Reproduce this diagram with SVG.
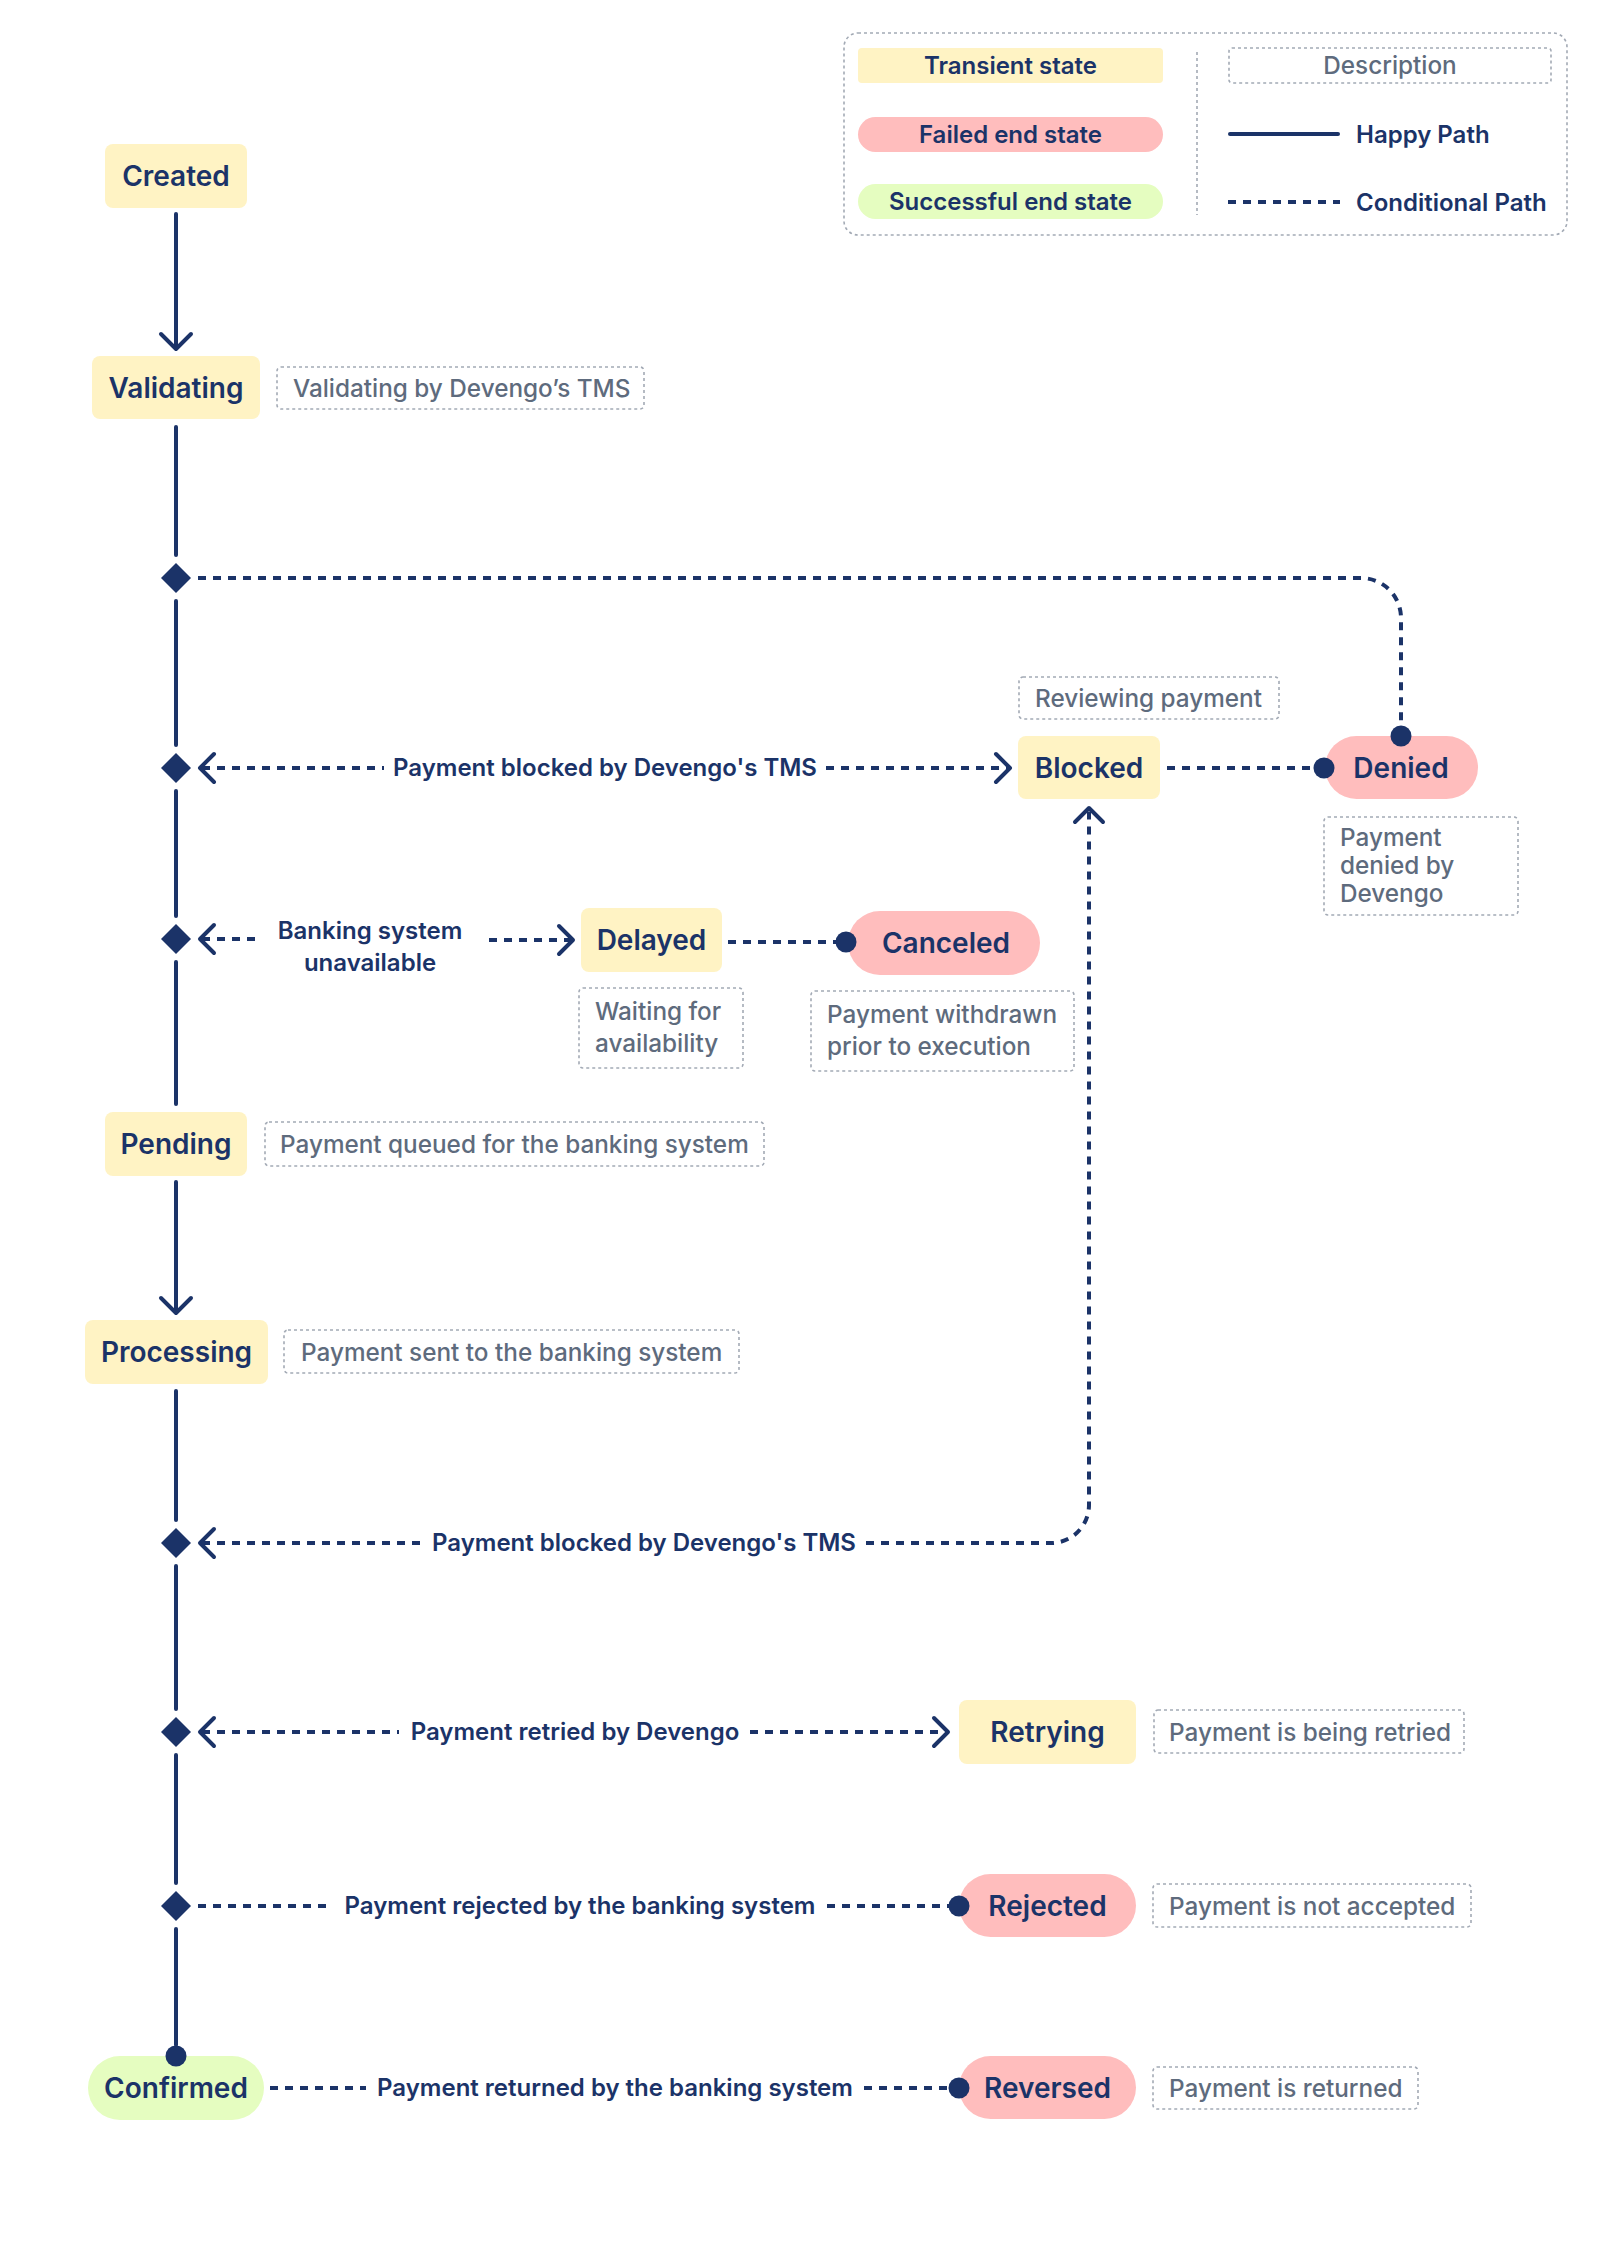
<svg xmlns="http://www.w3.org/2000/svg" width="1600" height="2266" viewBox="0 0 1600 2266">
<style>
.bg{fill:#ffffff}
.tr{fill:#FFF3C4}
.fl{fill:#FFBDBD}
.ok{fill:#E5FDC0}
.nt{font-family:Inter,"Noto Sans","Liberation Sans",sans-serif;font-size:28px;font-weight:600;fill:#1B3368;text-anchor:middle}
.lt{font-family:Inter,"Noto Sans","Liberation Sans",sans-serif;font-size:24px;font-weight:600;fill:#1B3368}
.lm{text-anchor:middle}
.dt{font-family:Inter,"Noto Sans","Liberation Sans",sans-serif;font-size:24.3px;font-weight:500;fill:#5E6B7D}
.db{fill:none;stroke:#A3AAB5;stroke-width:1.6;stroke-dasharray:3 3}
.solid{fill:none;stroke:#1B3368;stroke-width:4;stroke-linecap:round}
.dash{fill:none;stroke:#1B3368;stroke-width:4;stroke-dasharray:8 7}
.chev{fill:none;stroke:#1B3368;stroke-width:4;stroke-linecap:round;stroke-linejoin:round}
.dia{fill:#1B3368}
.dot{fill:#1B3368}
</style>
<rect class="bg" x="0" y="0" width="1600" height="2266"/>

<g id="legend">
  <rect class="db" x="844" y="33" width="723" height="202" rx="14"/>
  <rect class="tr" x="858" y="48" width="305" height="35" rx="4"/>
  <text class="lt lm" x="1010.5" y="74">Transient state</text>
  <rect class="fl" x="858" y="117" width="305" height="35" rx="17.5"/>
  <text class="lt lm" x="1010.5" y="143">Failed end state</text>
  <rect class="ok" x="858" y="184" width="305" height="35" rx="17.5"/>
  <text class="lt lm" x="1010.5" y="210">Successful end state</text>
  <line class="db" x1="1197" y1="52" x2="1197" y2="215"/>
  <rect class="db" x="1229" y="48" width="322" height="35" rx="3"/>
  <text class="dt" x="1390" y="74" text-anchor="middle">Description</text>
  <line class="solid" x1="1230" y1="134" x2="1338" y2="134"/>
  <text class="lt" x="1356" y="143">Happy Path</text>
  <line class="dash" x1="1228" y1="202" x2="1340" y2="202"/>
  <text class="lt" x="1356" y="211">Conditional Path</text>
</g>

<g id="node-created">
  <rect class="tr" x="105" y="144" width="142" height="64" rx="8"/>
  <text class="nt" x="176" y="186">Created</text>
</g>
<g id="node-validating">
  <rect class="tr" x="92" y="356" width="168" height="63" rx="8"/>
  <text class="nt" x="176" y="398">Validating</text>
  <rect class="db" x="277" y="367" width="367" height="42" rx="4"/>
  <text class="dt" x="293" y="397">Validating by Devengo’s TMS</text>
</g>
<g id="node-blocked">
  <rect class="tr" x="1018" y="736" width="142" height="63" rx="8"/>
  <text class="nt" x="1089" y="778">Blocked</text>
  <rect class="db" x="1019" y="677" width="260" height="42" rx="4"/>
  <text class="dt" x="1035" y="707">Reviewing payment</text>
</g>
<g id="node-denied">
  <rect class="fl" x="1325" y="736" width="153" height="63" rx="31.5"/>
  <text class="nt" x="1401" y="778">Denied</text>
  <rect class="db" x="1324" y="817" width="194" height="98" rx="4"/>
  <text class="dt" x="1340" y="846">Payment</text>
  <text class="dt" x="1340" y="874">denied by</text>
  <text class="dt" x="1340" y="902">Devengo</text>
</g>
<g id="node-delayed">
  <rect class="tr" x="581" y="908" width="141" height="64" rx="8"/>
  <text class="nt" x="651.5" y="950">Delayed</text>
  <rect class="db" x="579" y="988" width="164" height="80" rx="4"/>
  <text class="dt" x="595" y="1020">Waiting for</text>
  <text class="dt" x="595" y="1052">availability</text>
</g>
<g id="node-canceled">
  <rect class="fl" x="848" y="911" width="192" height="64" rx="32"/>
  <text class="nt" x="946" y="953">Canceled</text>
  <rect class="db" x="811" y="991" width="263" height="80" rx="4"/>
  <text class="dt" x="827" y="1023">Payment withdrawn</text>
  <text class="dt" x="827" y="1055">prior to execution</text>
</g>
<g id="node-pending">
  <rect class="tr" x="105" y="1112" width="142" height="64" rx="8"/>
  <text class="nt" x="176" y="1154">Pending</text>
  <rect class="db" x="265" y="1122" width="499" height="44" rx="4"/>
  <text class="dt" x="280" y="1153">Payment queued for the banking system</text>
</g>
<g id="node-processing">
  <rect class="tr" x="85" y="1320" width="183" height="64" rx="8"/>
  <text class="nt" x="176.5" y="1362">Processing</text>
  <rect class="db" x="284" y="1330" width="455" height="43" rx="4"/>
  <text class="dt" x="301" y="1361">Payment sent to the banking system</text>
</g>
<g id="node-retrying">
  <rect class="tr" x="959" y="1700" width="177" height="64" rx="8"/>
  <text class="nt" x="1047.5" y="1742">Retrying</text>
  <rect class="db" x="1154" y="1710" width="310" height="43" rx="4"/>
  <text class="dt" x="1169" y="1741">Payment is being retried</text>
</g>
<g id="node-rejected">
  <rect class="fl" x="959" y="1874" width="177" height="63" rx="31.5"/>
  <text class="nt" x="1047.5" y="1916">Rejected</text>
  <rect class="db" x="1153" y="1884" width="318" height="43" rx="4"/>
  <text class="dt" x="1169" y="1915">Payment is not accepted</text>
</g>
<g id="node-confirmed">
  <rect class="ok" x="88" y="2056" width="176" height="64" rx="32"/>
  <text class="nt" x="176" y="2098">Confirmed</text>
</g>
<g id="node-reversed">
  <rect class="fl" x="959" y="2056" width="177" height="63" rx="31.5"/>
  <text class="nt" x="1047.5" y="2098">Reversed</text>
  <rect class="db" x="1153" y="2067" width="265" height="42" rx="4"/>
  <text class="dt" x="1169" y="2097">Payment is returned</text>
</g>

<g id="connectors">
  <line class="solid" x1="176" y1="214" x2="176" y2="347"/>
  <polyline class="chev" points="161,334 176,349 191,334"/>
  <line class="solid" x1="176" y1="427" x2="176" y2="555"/>
  <line class="solid" x1="176" y1="601" x2="176" y2="745"/>
  <line class="solid" x1="176" y1="791" x2="176" y2="916"/>
  <line class="solid" x1="176" y1="962" x2="176" y2="1104"/>
  <line class="solid" x1="176" y1="1182" x2="176" y2="1311"/>
  <polyline class="chev" points="161,1298 176,1313 191,1298"/>
  <line class="solid" x1="176" y1="1391" x2="176" y2="1520"/>
  <line class="solid" x1="176" y1="1566" x2="176" y2="1709"/>
  <line class="solid" x1="176" y1="1755" x2="176" y2="1883"/>
  <line class="solid" x1="176" y1="1929" x2="176" y2="2045"/>

  <polygon class="dia" points="176,563 191,578 176,593 161,578"/>
  <polygon class="dia" points="176,753 191,768 176,783 161,768"/>
  <polygon class="dia" points="176,924 191,939 176,954 161,939"/>
  <polygon class="dia" points="176,1528 191,1543 176,1558 161,1543"/>
  <polygon class="dia" points="176,1717 191,1732 176,1747 161,1732"/>
  <polygon class="dia" points="176,1891 191,1906 176,1921 161,1906"/>
  <circle class="dot" cx="176" cy="2056" r="10.5"/>

  <path class="dash" d="M198,578 H1361 A40,40 0 0 1 1401,618 V736"/>
  <circle class="dot" cx="1401" cy="736" r="10.5"/>

  <polyline class="chev" points="214,754 200,768 214,782"/>
  <line class="dash" x1="202" y1="768" x2="384" y2="768"/>
  <text class="lt lm" x="605" y="776">Payment blocked by Devengo's TMS</text>
  <line class="dash" x1="826" y1="768" x2="1008" y2="768"/>
  <polyline class="chev" points="996,754 1010,768 996,782"/>

  <line class="dash" x1="1167" y1="768" x2="1316" y2="768"/>
  <circle class="dot" cx="1324" cy="768" r="10.5"/>

  <polyline class="chev" points="214,925 200,939 214,953"/>
  <line class="dash" x1="202" y1="939" x2="262" y2="939"/>
  <text class="lt lm" x="370" y="939">Banking system</text>
  <text class="lt lm" x="370" y="971">unavailable</text>
  <line class="dash" x1="489" y1="940" x2="571" y2="940"/>
  <polyline class="chev" points="559,926 573,940 559,954"/>

  <line class="dash" x1="728" y1="942" x2="840" y2="942"/>
  <circle class="dot" cx="846" cy="942" r="10.5"/>

  <polyline class="chev" points="214,1529 200,1543 214,1557"/>
  <line class="dash" x1="202" y1="1543" x2="422" y2="1543"/>
  <text class="lt lm" x="644" y="1551">Payment blocked by Devengo's TMS</text>
  <path class="dash" d="M866,1543 H1051 A38,38 0 0 0 1089,1505 V810"/>
  <polyline class="chev" points="1075,822 1089,808 1103,822"/>

  <polyline class="chev" points="214,1718 200,1732 214,1746"/>
  <line class="dash" x1="202" y1="1732" x2="399" y2="1732"/>
  <text class="lt lm" x="575" y="1740">Payment retried by Devengo</text>
  <line class="dash" x1="750" y1="1732" x2="946" y2="1732"/>
  <polyline class="chev" points="934,1718 948,1732 934,1746"/>

  <line class="dash" x1="198" y1="1906" x2="332" y2="1906"/>
  <text class="lt lm" x="580" y="1914">Payment rejected by the banking system</text>
  <line class="dash" x1="827" y1="1906" x2="951" y2="1906"/>
  <circle class="dot" cx="959" cy="1906" r="10.5"/>

  <line class="dash" x1="270" y1="2088" x2="366" y2="2088"/>
  <text class="lt lm" x="615" y="2096">Payment returned by the banking system</text>
  <line class="dash" x1="864" y1="2088" x2="951" y2="2088"/>
  <circle class="dot" cx="959" cy="2088" r="10.5"/>
</g>
</svg>
